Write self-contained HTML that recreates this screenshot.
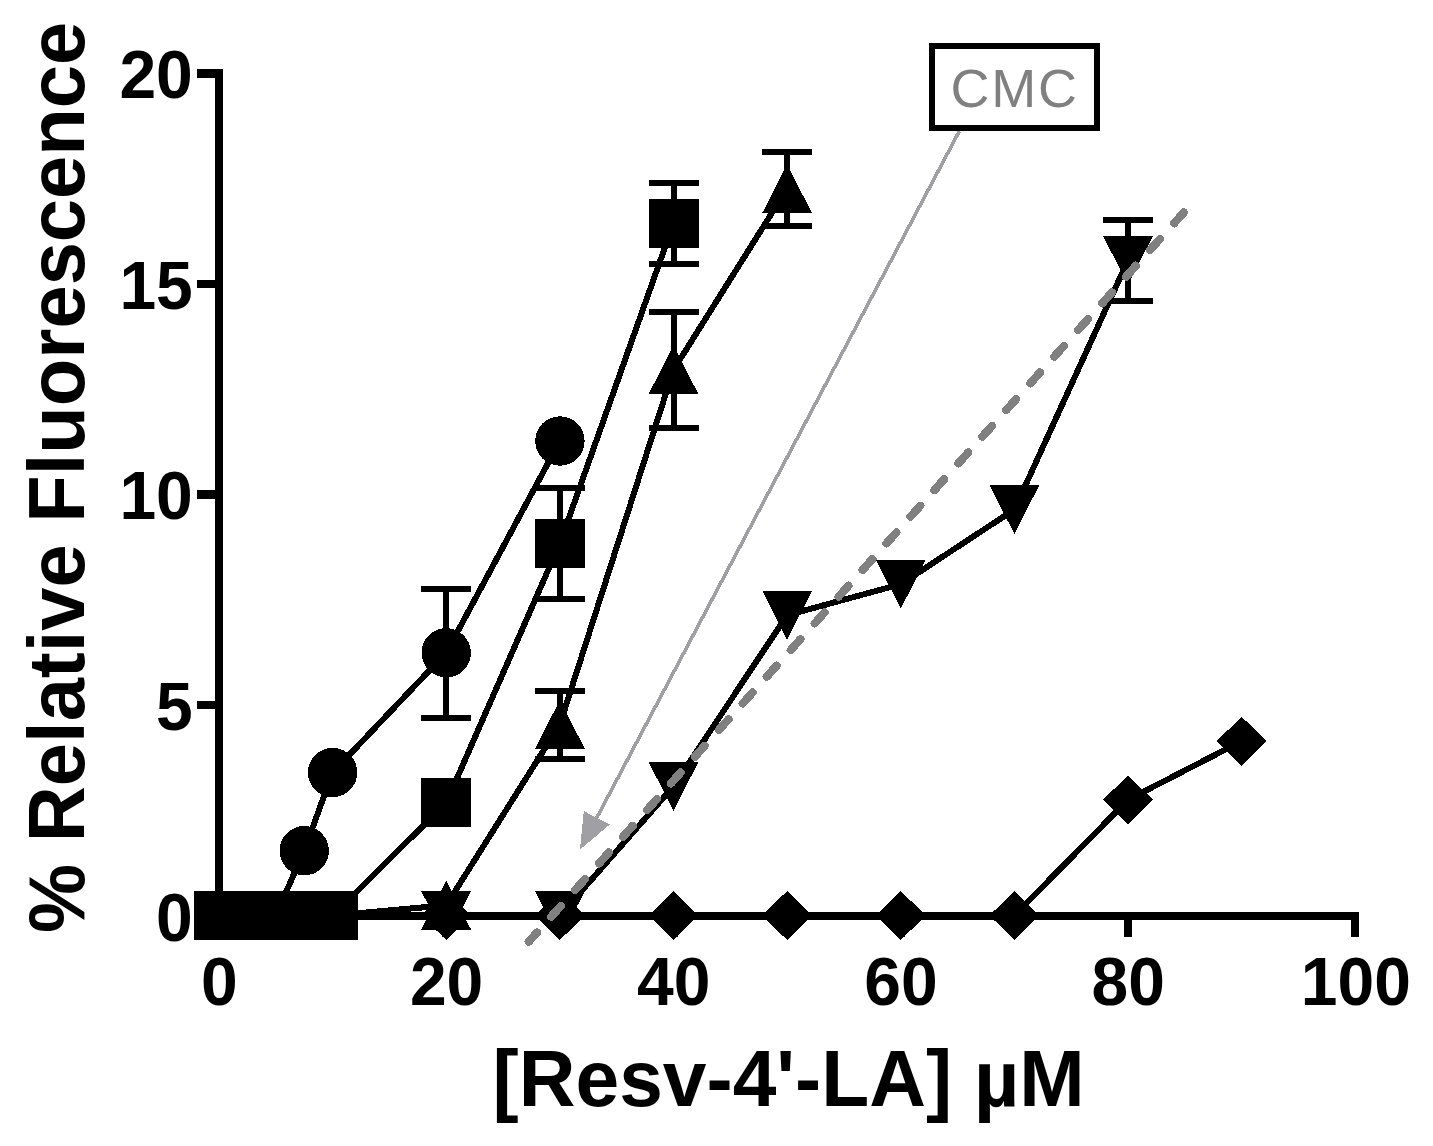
<!DOCTYPE html>
<html lang="en"><head><meta charset="utf-8"><title>CMC plot</title>
<style>
html,body{margin:0;padding:0;background:#fff;}
body{width:1433px;height:1146px;overflow:hidden;}
svg{display:block;}
text{font-family:"Liberation Sans",Arial,Helvetica,sans-serif;}
.b{font-weight:bold;fill:#000;}
</style></head><body>
<svg width="1433" height="1146" viewBox="0 0 1433 1146" shape-rendering="crispEdges">
<rect x="0" y="0" width="1433" height="1146" fill="#fff"/>

<g fill="#000" shape-rendering="crispEdges">
<rect x="215" y="69" width="8" height="851"/>
<rect x="215" y="912" width="1144" height="8"/>
<rect x="197" y="69.0" width="20" height="9.0"/>
<rect x="197" y="280.0" width="20" height="8.0"/>
<rect x="197" y="490.3" width="20" height="8.4"/>
<rect x="197" y="700.8" width="20" height="8.4"/>
<rect x="215.0" y="912" width="8" height="25"/>
<rect x="442.2" y="912" width="8" height="25"/>
<rect x="669.5" y="912" width="8" height="25"/>
<rect x="896.8" y="912" width="8" height="25"/>
<rect x="1124.0" y="912" width="8" height="25"/>
<rect x="1351.2" y="912" width="8" height="25"/>
</g>
<g class="b" font-size="66">
<text transform="translate(192.8,98.2) scale(1,1.045)" text-anchor="end">20</text>
<text transform="translate(192.8,308.6) scale(1,1.045)" text-anchor="end">15</text>
<text transform="translate(192.8,519.2) scale(1,1.045)" text-anchor="end">10</text>
<text transform="translate(192.8,729.9) scale(1,1.045)" text-anchor="end">5</text>
<text transform="translate(192.8,940.7) scale(1,1.045)" text-anchor="end">0</text>
<text transform="translate(219.3,1005.2) scale(1,1.045)" text-anchor="middle">0</text>
<text transform="translate(446.6,1005.2) scale(1,1.045)" text-anchor="middle">20</text>
<text transform="translate(673.8,1005.2) scale(1,1.045)" text-anchor="middle">40</text>
<text transform="translate(901.0,1005.2) scale(1,1.045)" text-anchor="middle">60</text>
<text transform="translate(1128.3,1005.2) scale(1,1.045)" text-anchor="middle">80</text>
<text transform="translate(1355.8,1005.2) scale(1,1.045)" text-anchor="middle">100</text>
</g>
<text class="b" font-size="79" x="492.6" y="1106.3" textLength="592" lengthAdjust="spacingAndGlyphs">[Resv-4'-LA] µM</text>
<text class="b" font-size="79" transform="translate(84.1,932.9) rotate(-90)" textLength="911" lengthAdjust="spacingAndGlyphs">% Relative Fluorescence</text>
<g stroke="#000" stroke-width="6" fill="none">
<path d="M446.2 589.0V718.0M421.2 589.0H471.2M421.2 718.0H471.2"/>
<path d="M559.9 488.4V598.5M534.9 488.4H584.9M534.9 598.5H584.9"/>
<path d="M559.9 690.5V758.6M534.9 690.5H584.9M534.9 758.6H584.9"/>
<path d="M673.5 311.9V428.0M648.5 311.9H698.5M648.5 428.0H698.5"/>
<path d="M787.1 152.0V226.4M762.1 152.0H812.1M762.1 226.4H812.1"/>
<path d="M673.5 182.6V264.1M648.5 182.6H698.5M648.5 264.1H698.5"/>
<path d="M1128.0 220.0V300.9M1103.0 220.0H1153.0M1103.0 300.9H1153.0"/>
</g>
<g stroke="#000" stroke-width="6" fill="none" stroke-linejoin="round">
<polyline points="219.0,915.5 247.4,915.5 275.8,915.5 304.2,850.7 332.6,772.5 446.2,652.8 559.9,441.0"/>
<polyline points="219.0,915.5 247.4,915.5 275.8,915.5 304.2,915.5 332.6,915.5 446.2,802.9 559.9,543.3 673.5,223.3"/>
<polyline points="219.0,915.5 247.4,915.5 275.8,915.5 304.2,915.5 332.6,915.5 446.2,905.3 559.9,724.5 673.5,369.8 787.1,188.8"/>
<polyline points="446.2,915.5 559.9,915.5 673.5,786.3 787.1,615.2 900.8,584.2 1014.4,509.5 1128.0,260.3"/>
<polyline points="446.2,915.5 559.9,915.5 673.5,915.5 787.1,915.5 900.8,915.5 1014.4,915.5 1128.0,799.8 1241.6,741.2"/>
</g>
<g fill="#000">
<circle cx="219.0" cy="915.5" r="24.7"/>
<circle cx="247.4" cy="915.5" r="24.7"/>
<circle cx="275.8" cy="915.5" r="24.7"/>
<circle cx="304.2" cy="850.7" r="24.7"/>
<circle cx="332.6" cy="772.5" r="24.7"/>
<circle cx="446.2" cy="652.8" r="24.7"/>
<circle cx="559.9" cy="441.0" r="24.7"/>
<rect x="194.0" y="891.0" width="50" height="49"/>
<rect x="222.4" y="891.0" width="50" height="49"/>
<rect x="250.8" y="891.0" width="50" height="49"/>
<rect x="279.2" y="891.0" width="50" height="49"/>
<rect x="307.6" y="891.0" width="50" height="49"/>
<rect x="421.2" y="778.4" width="50" height="49"/>
<rect x="534.9" y="518.8" width="50" height="49"/>
<rect x="648.5" y="198.8" width="50" height="49"/>
<polygon points="219.0,891.0 244.0,940.0 194.0,940.0"/>
<polygon points="247.4,891.0 272.4,940.0 222.4,940.0"/>
<polygon points="275.8,891.0 300.8,940.0 250.8,940.0"/>
<polygon points="304.2,891.0 329.2,940.0 279.2,940.0"/>
<polygon points="332.6,891.0 357.6,940.0 307.6,940.0"/>
<polygon points="446.2,880.8 471.2,929.8 421.2,929.8"/>
<polygon points="559.9,700.0 584.9,749.0 534.9,749.0"/>
<polygon points="673.5,345.3 698.5,394.3 648.5,394.3"/>
<polygon points="787.1,164.3 812.1,213.3 762.1,213.3"/>
<polygon points="446.2,940.0 471.2,891.0 421.2,891.0"/>
<polygon points="559.9,940.0 584.9,891.0 534.9,891.0"/>
<polygon points="673.5,810.8 698.5,761.8 648.5,761.8"/>
<polygon points="787.1,639.7 812.1,590.7 762.1,590.7"/>
<polygon points="900.8,608.7 925.8,559.7 875.8,559.7"/>
<polygon points="1014.4,534.0 1039.4,485.0 989.4,485.0"/>
<polygon points="1128.0,284.8 1153.0,235.8 1103.0,235.8"/>
<polygon points="446.2,891.0 471.2,915.5 446.2,940.0 421.2,915.5"/>
<polygon points="559.9,891.0 584.9,915.5 559.9,940.0 534.9,915.5"/>
<polygon points="673.5,891.0 698.5,915.5 673.5,940.0 648.5,915.5"/>
<polygon points="787.1,891.0 812.1,915.5 787.1,940.0 762.1,915.5"/>
<polygon points="900.8,891.0 925.8,915.5 900.8,940.0 875.8,915.5"/>
<polygon points="1014.4,891.0 1039.4,915.5 1014.4,940.0 989.4,915.5"/>
<polygon points="1128.0,775.3 1153.0,799.8 1128.0,824.3 1103.0,799.8"/>
<polygon points="1241.6,716.7 1266.6,741.2 1241.6,765.7 1216.6,741.2"/>
</g>
<rect x="932" y="46" width="165" height="82" fill="#fff" stroke="#000" stroke-width="6"/>
<text x="950.6" y="106.6" font-size="54" fill="#808080" textLength="126.4" lengthAdjust="spacing">CMC</text>
<line x1="959.4" y1="131" x2="594" y2="823" stroke="#a0a0a4" stroke-width="3.6"/>
<polygon points="580,849.6 583.8,811.1 609.8,824.5" fill="#a0a0a4"/>
<line x1="528.8" y1="941.6" x2="1184" y2="212.2" stroke="#808080" stroke-width="8.2" stroke-linecap="round" stroke-dasharray="14.6 21.25" stroke-dashoffset="2.4"/>
</svg>
</body></html>
